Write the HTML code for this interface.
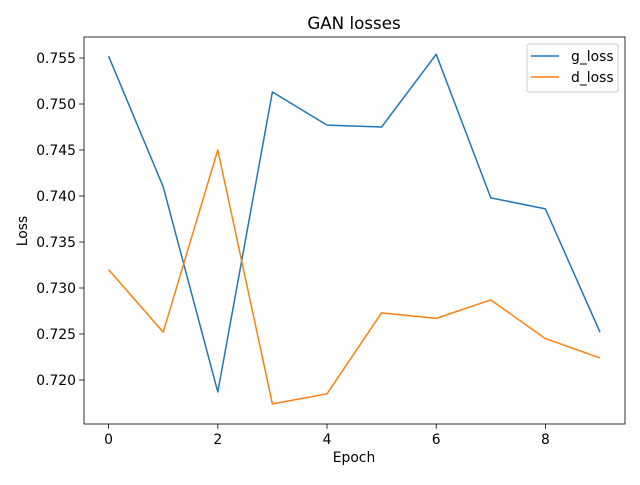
<!DOCTYPE html>
<html><head><meta charset="utf-8"><style>
body{margin:0;background:#fff}
svg{font-family:"DejaVu Sans","Liberation Sans",sans-serif}
</style></head><body>
<svg id="chart" width="640" height="480">
<rect x="0" y="0" width="640" height="480" fill="#fff"/>
<g id="plot"></g>
</svg>
<script>
const epochs=[0,1,2,3,4,5,6,7,8,9];
const gLoss=[0.7552,0.7410,0.7187,0.7513,0.7477,0.7475,0.7554,0.7398,0.7386,0.7252];
const dLoss=[0.7320,0.7252,0.7450,0.7174,0.7185,0.7273,0.7267,0.7287,0.7245,0.7224];
const xTicks=[0,2,4,6,8];
const yTicks=[0.720,0.725,0.730,0.735,0.740,0.745,0.750,0.755];
const L=84,R=625,T=37,B=424;
const xs=v=>108.6+v*54.6;
const ys=v=>58+(0.755-v)/0.005*46;
const NS="http://www.w3.org/2000/svg";
const g=document.getElementById('plot');
function mk(t,a,txt){const e=document.createElementNS(NS,t);for(const k in a)e.setAttribute(k,a[k]);if(txt!==undefined)e.textContent=txt;g.appendChild(e);return e;}
let e;
e=mk('text',{x:354,y:29,'text-anchor':'middle','font-size':16.7},'GAN losses');


xTicks.forEach(v=>{
 e=mk('line',{x1:xs(v),x2:xs(v),y1:B,y2:B+4.9,stroke:'#000','stroke-width':0.8});
 
 
 e=mk('text',{x:xs(v),y:B+20,'text-anchor':'middle','font-size':13.9},String(v));
 
 
});
yTicks.forEach(v=>{
 e=mk('line',{x1:L-4.9,x2:L,y1:ys(v),y2:ys(v),stroke:'#000','stroke-width':0.8});
 
 
 e=mk('text',{x:L-8,y:ys(v)+5,'text-anchor':'end','font-size':13.9},v.toFixed(3));
 
 
});
e=mk('text',{x:354,y:462,'text-anchor':'middle','font-size':13.9},'Epoch');


e=mk('text',{x:27,y:231,'text-anchor':'middle','font-size':13.9,transform:'rotate(-90 27 231)'},'Loss');


function series(vals,color,name){
 const p=epochs.map((x,i)=>xs(x)+','+ys(vals[i])).join(' ');
 const el=mk('polyline',{points:p,fill:'none',stroke:color,'stroke-width':1.5,'stroke-linejoin':'round'});
 
 
}
series(gLoss,'#1f77b4','g-loss-line');
series(dLoss,'#ff7f0e','d-loss-line');
e=mk('rect',{x:L,y:T,width:R-L,height:B-T,fill:'none',stroke:'#000','stroke-width':0.8});


e=mk('rect',{x:527,y:44,width:91,height:48,rx:2,fill:'#fff',stroke:'#ccc','stroke-width':1});


[['g_loss','#1f77b4',56],['d_loss','#ff7f0e',77]].forEach(([t,c,y])=>{
 e=mk('line',{x1:531,x2:559,y1:y,y2:y,stroke:c,'stroke-width':1.5});
 
 
 e=mk('text',{x:571,y:y+5,'font-size':13.9},t);
 
 
});
</script>
</body></html>
